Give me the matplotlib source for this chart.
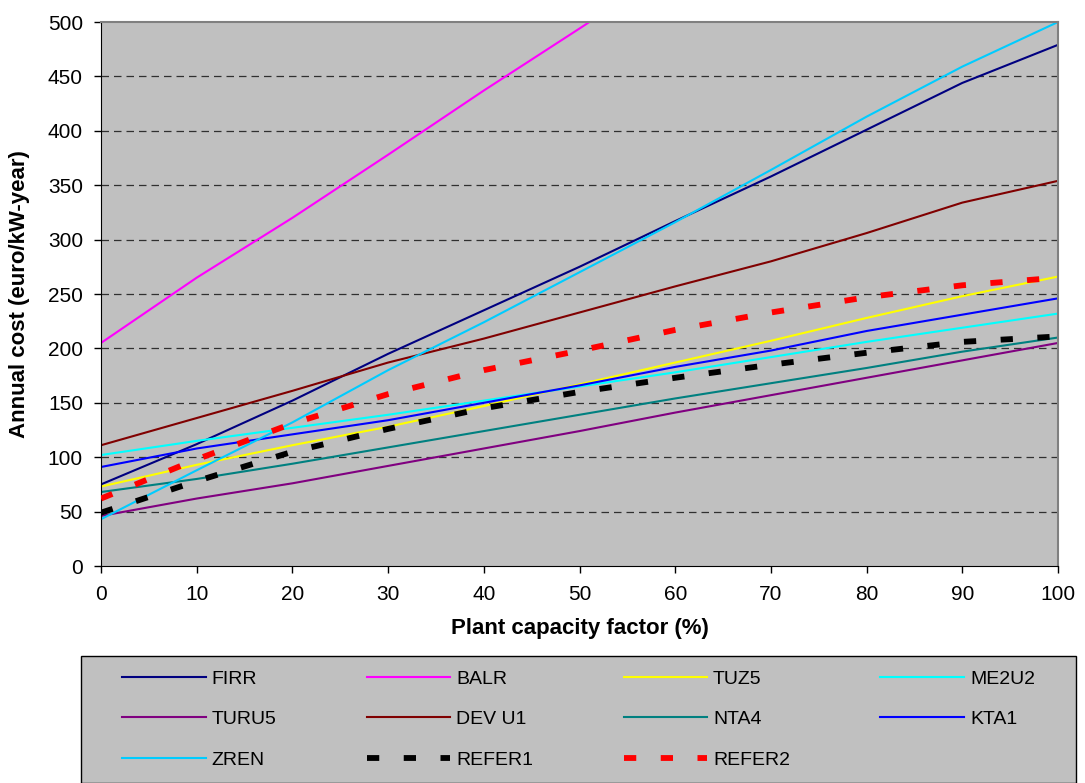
import matplotlib
matplotlib.use("Agg")
import matplotlib.pyplot as plt
from matplotlib.patches import Rectangle

plt.rcParams['font.family'] = ['Liberation Sans', 'DejaVu Sans']

# plant capacity factor (%)
x = [0, 10, 20, 30, 40, 50, 60, 70, 80, 90, 100]

# annual cost (euro/kW-year)
firr = [75, 112, 152, 195, 235, 275, 317, 358, 401, 444, 479]
balr = [205, 265, 320, 378, 437, 494, 552, 610, 668, 726, 784]
tuz5 = [73, 93, 111, 128, 147, 167, 187, 207, 228, 248, 266]
me2u2 = [102, 115, 127, 139, 152, 165, 178, 192, 206, 219, 232]
turu5 = [46, 62, 76, 92, 108, 124, 141, 157, 173, 189, 205]
devu1 = [111, 136, 161, 187, 209, 233, 257, 280, 306, 334, 354]
nta4 = [68, 80, 94, 109, 124, 139, 154, 168, 182, 197, 210]
kta1 = [91, 108, 121, 134, 150, 166, 183, 198, 216, 231, 246]
zren = [43, 88, 132, 180, 224, 270, 316, 364, 413, 459, 500]
refer1 = [49, 78, 105, 126, 145, 160, 173, 185, 196, 206, 211]
refer2 = [62, 98, 131, 158, 180, 198, 217, 233, 247, 258, 265]

series = {
    "FIRR": (firr, "#000080"),
    "BALR": (balr, "#FF00FF"),
    "TUZ5": (tuz5, "#FFFF00"),
    "ME2U2": (me2u2, "#00FFFF"),
    "TURU5": (turu5, "#800080"),
    "DEV U1": (devu1, "#800000"),
    "NTA4": (nta4, "#008080"),
    "KTA1": (kta1, "#0000FF"),
    "ZREN": (zren, "#00CCFF"),
    "REFER1": (refer1, "#000000"),
    "REFER2": (refer2, "#FF0000"),
}

W, H = 1085, 783
fig = plt.figure(figsize=(W / 100, H / 100), dpi=100)
ax = fig.add_axes([101 / W, 1 - 566 / H, 957 / W, 544 / H])
ax.set_facecolor("#C0C0C0")

for y in range(50, 500, 50):
    ax.axhline(y, color="#303030", lw=0.9, dashes=(6, 4), zorder=1)

lines = {}
for name, (vals, col) in series.items():
    if name.startswith("REFER"):
        ln, = ax.plot(x, vals, color=col, lw=4.2, dashes=(2.1, 4.2),
                      dash_capstyle="butt", label=name, zorder=3)
    else:
        ln, = ax.plot(x, vals, color=col, lw=1.5, label=name, zorder=2)
    lines[name] = ln

ax.set_xlim(0, 100)
ax.set_ylim(0, 500)
ax.set_xticks(range(0, 101, 10))
ax.set_yticks(range(0, 501, 50))
ax.tick_params(axis="both", direction="out", length=5, labelsize=15, width=1)
ax.tick_params(axis="x", pad=9)
ax.tick_params(axis="y", pad=8)
for s in ["top", "right"]:
    ax.spines[s].set_color("#808080")
    ax.spines[s].set_linewidth(1.5)
for s in ["left", "bottom"]:
    ax.spines[s].set_color("black")

ax.set_xlabel("Plant capacity factor (%)", fontsize=16, fontweight="bold", labelpad=10)
ax.set_ylabel("Annual cost (euro/kW-year)", fontsize=16, fontweight="bold", labelpad=13)

# legend box
fig.patches.append(Rectangle((81 / W, 0), 995 / W, 1 - 656 / H, transform=fig.transFigure,
                             facecolor="#C0C0C0", edgecolor="black", lw=1.0, zorder=0))

# matplotlib fills columns first; reorder so the legend reads row by row
order = ["FIRR", "TURU5", "ZREN", "BALR", "DEV U1", "REFER1",
         "TUZ5", "NTA4", "REFER2", "ME2U2", "KTA1"]
leg = fig.legend([lines[n] for n in order], order, loc="upper left",
                 bbox_to_anchor=(122 / W, 1 - 670 / H), ncol=4, fontsize=14,
                 frameon=False, handlelength=4.3, handletextpad=0.3,
                 columnspacing=4.65, labelspacing=1.18, borderpad=0, borderaxespad=0)

fig.savefig("out.png", dpi=100)
